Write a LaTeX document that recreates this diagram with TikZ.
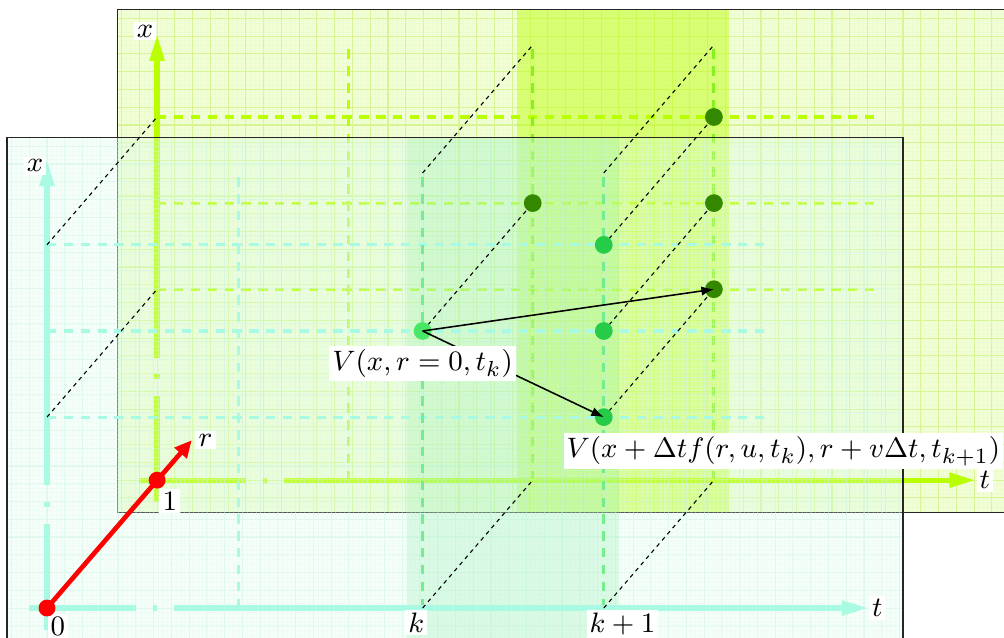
\documentclass[tikz,border=0pt]{standalone}
\usetikzlibrary{arrows.meta,positioning}

\definecolor{frontaxis}{RGB}{168,250,226}
\definecolor{frontfill}{RGB}{214,255,232}
\definecolor{frontgrid}{RGB}{196,242,220}
\definecolor{frontband}{RGB}{150,240,180}
\definecolor{backaxis}{RGB}{185,255,0}
\definecolor{backfill}{RGB}{242,255,212}
\definecolor{backgrid}{RGB}{214,246,150}
\definecolor{kfront}{RGB}{118,236,140}
\definecolor{kback}{RGB}{134,240,34}
\definecolor{vdot}{RGB}{72,232,102}
\definecolor{fdot}{RGB}{38,204,72}
\definecolor{bdot}{RGB}{51,136,0}

\begin{document}
\begin{tikzpicture}[
    plane/.style={draw=black!85, line width=0.4pt},
    finegrid/.style={line width=0.1pt, step=0.05cm},
    coarsegrid/.style={line width=0.35pt, step=0.2cm},
    taxis/.style={line width=1.7pt, dash pattern=on 1.2cm off 0.19cm on 0.05cm off 0.19cm on 20cm off 0cm, -{Triangle[length=8.5pt,width=4.5pt]}},
    gridline/.style={line width=1pt, dash pattern=on 3pt off 2.4pt},
    diag/.style={black, line width=0.35pt, dash pattern=on 1.3pt off 1.3pt},
    gdot/.style={circle, inner sep=0pt, minimum size=0.2cm},
    rdot/.style={circle, fill=red, inner sep=0pt, minimum size=0.19cm},
    lbl/.style={fill=white, inner sep=1pt, font=\fontsize{9.3}{11}\selectfont},
    update/.style={black, line width=0.5pt, -{Latex[length=4pt,width=3pt]}}
  ]
    \useasboundingbox (-0.529,-0.327) rectangle (10.777,6.847);

    % Plane r = 1, behind.
    \begin{scope}[shift={(1.24,1.44)}]
      \fill[backfill] (-0.45,-0.36) rectangle (9.64,5.3);
      \draw[finegrid, backgrid!45] (-0.45,-0.36) grid (9.64,5.3);
      \draw[coarsegrid, backgrid] (-0.45,-0.36) grid (9.64,5.3);
      \fill[backaxis, opacity=0.45] (4.05,-0.36) rectangle (6.44,5.3);
      \draw[plane] (-0.45,-0.36) rectangle (9.64,5.3);
      \draw[gridline, backaxis] (0,2.15) -- (8.1,2.15);
      \draw[gridline, backaxis] (0,3.12) -- (8.1,3.12);
      \draw[gridline, backaxis] (0,4.09) -- (8.1,4.09);
      \draw[gridline, backaxis] (2.16,0) -- (2.16,4.9);
      \draw[gridline, kback] (4.23,0) -- (4.23,4.9);
      \draw[gridline, kback] (6.27,0) -- (6.27,4.9);
      \draw[taxis, backaxis] (-0.2,0) -- (9.22,0);
      \draw[taxis, backaxis] (0,-0.25) -- (0,5.02);
    \end{scope}

    % Plane r = 0, in front.
    \fill[frontfill, fill opacity=0.25] (-0.45,-0.36) rectangle (9.64,5.3);
    \draw[finegrid, frontgrid!45, opacity=0.35] (-0.45,-0.36) grid (9.64,5.3);
    \draw[coarsegrid, frontgrid, opacity=0.35] (-0.45,-0.36) grid (9.64,5.3);
    \fill[frontband, opacity=0.28] (4.05,-0.36) rectangle (6.44,5.3);
    \draw[plane] (-0.45,-0.36) rectangle (9.64,5.3);
    \draw[gridline, frontaxis] (0,2.15) -- (8.1,2.15);
    \draw[gridline, frontaxis] (0,3.12) -- (8.1,3.12);
    \draw[gridline, frontaxis] (0,4.09) -- (8.1,4.09);
    \draw[gridline, frontaxis] (2.16,0) -- (2.16,4.9);
    \draw[gridline, kfront] (4.23,0) -- (4.23,4.9);
    \draw[gridline, kfront] (6.27,0) -- (6.27,4.9);
    \draw[taxis, frontaxis] (-0.2,0) -- (9.25,0);
    \draw[taxis, frontaxis] (0,-0.25) -- (0,5.05);

    % Grid points.
    \coordinate (v0) at (4.23,3.12);
    \coordinate (f1) at (6.27,4.09);
    \coordinate (f2) at (6.27,3.12);
    \coordinate (f3) at (6.27,2.15);
    \coordinate (b0) at (5.47,4.56);
    \coordinate (b1) at (7.51,5.53);
    \coordinate (b2) at (7.51,4.56);
    \coordinate (b3) at (7.51,3.59);

    % Links between the two planes.
    \draw[diag] (0,2.15) -- ++(1.24,1.44);
    \draw[diag] (0,4.09) -- ++(1.24,1.44);
    \draw[diag] (4.23,0) -- ++(1.24,1.44);
    \draw[diag] (4.23,4.9) -- ++(1.24,1.44);
    \draw[diag] (6.27,0) -- ++(1.24,1.44);
    \draw[diag] (6.27,4.9) -- ++(1.24,1.44);
    \draw[diag] (v0) -- (b0);
    \draw[diag] (f1) -- (b1);
    \draw[diag] (f2) -- (b2);
    \draw[diag] (f3) -- (b3);

    \node[gdot, fill=vdot] (dv0) at (v0) {};
    \node[gdot, fill=fdot] (df1) at (f1) {};
    \node[gdot, fill=fdot] (df2) at (f2) {};
    \node[gdot, fill=fdot] (df3) at (f3) {};
    \node[gdot, fill=bdot] (db0) at (b0) {};
    \node[gdot, fill=bdot] (db1) at (b1) {};
    \node[gdot, fill=bdot] (db2) at (b2) {};
    \node[gdot, fill=bdot] (db3) at (b3) {};

    % r axis, its labels first so that the dots lie on top.
    \coordinate (r0) at (0,0);
    \coordinate (r1) at (1.24,1.44);
    \coordinate (rtip) at (1.63,1.89);
    \node[lbl, anchor=north west] (lab0) at ([yshift=-0.06cm]r0) {$0$};
    \node[lbl, anchor=north west] (lab1) at ([xshift=0.02cm,yshift=-0.09cm]r1) {$1$};
    \draw[red, line width=1.5pt, -{Triangle[length=5.5pt,width=5pt]}] (r0) -- (rtip);
    \node[rdot] (o1) at (r0) {};
    \node[rdot] (o2) at (r1) {};
    \node[lbl, anchor=west, xshift=1pt] (rlab) at (rtip) {$r$};

    % Update arrows.
    \draw[update] (dv0.center) -- (db3.center);
    \draw[update] (dv0.center) -- (df3.center);

    % Labels.
    \node[lbl, anchor=east, yshift=-2pt] (xF) at (0,5.05) {$x$};
    \node[lbl, anchor=east, yshift=1pt] (xB) at (1.24,6.46) {$x$};
    \node[lbl, anchor=west] (tF) at (9.25,0) {$t$};
    \node[lbl, anchor=west] (tB) at (10.46,1.44) {$t$};
    \node[lbl, anchor=north] (kLab) at (4.16,-0.01) {$k$};
    \node[lbl, anchor=north] (k1Lab) at (6.48,-0.01) {$k+1$};
    \node[lbl, anchor=north] (vLab) at ([yshift=-0.06cm]dv0.south) {$V(x,r=0,t_k)$};
    \node[lbl, anchor=north west] (fLab) at ([xshift=-0.46cm,yshift=-0.07cm]df3.south) {$V(x+\Delta t f(r,u,t_k),r+v\Delta t,t_{k+1})$};
  \end{tikzpicture}
\end{document}
